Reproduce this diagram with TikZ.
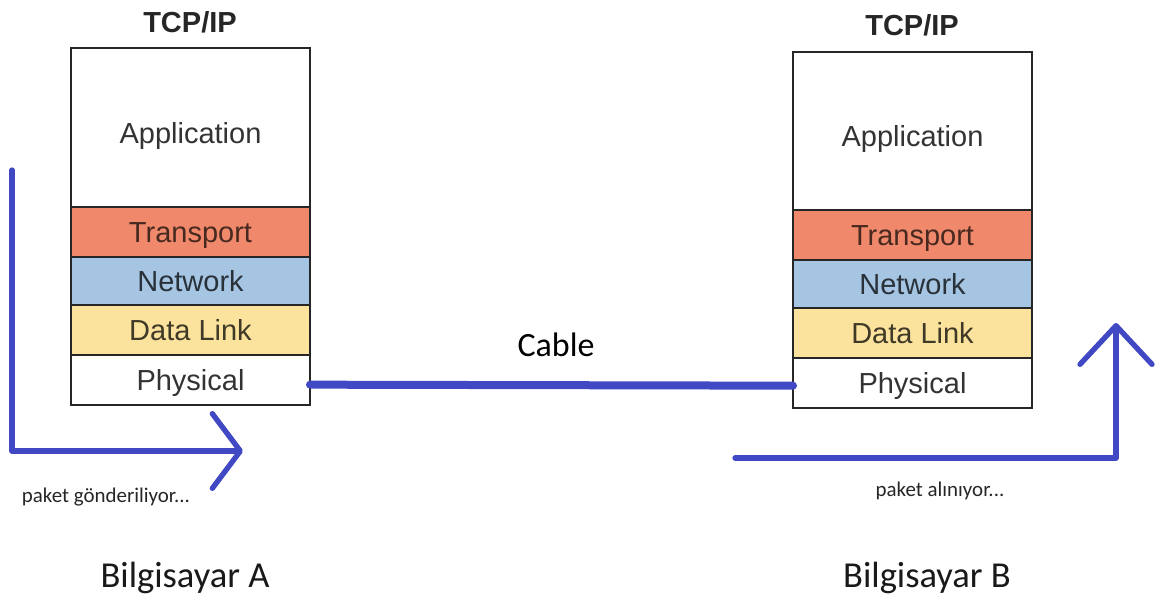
\documentclass[tikz,border=0pt]{standalone}
\usepackage{fontspec}
\setmainfont{Carlito}
\newfontfamily\arialfont{Liberation Sans}
\usetikzlibrary{positioning,arrows.meta}
\definecolor{transcol}{HTML}{F0896B}
\definecolor{netcol}{HTML}{A5C5E3}
\definecolor{linkcol}{HTML}{FCE39D}
\definecolor{flowblue}{HTML}{4048C4}
\tikzset{
  layer/.style={draw=black!85,line width=2.2pt,minimum width=179.25pt,
    minimum height=37.5pt,inner sep=0pt,outer sep=0pt,
    text height=15.8pt,text depth=0pt,
    font=\arialfont\fontsize{21.75}{26}\selectfont,text=black!80},
  applayer/.style={layer,text height=23.3pt},
  stacktitle/.style={font=\arialfont\bfseries\fontsize{21.75}{26}\selectfont,text=black!85},
  flow/.style={draw=flowblue,line width=4pt,line cap=round,line join=round},
}
\begin{document}
\begin{tikzpicture}[x=0.75pt,y=-0.75pt]
  \useasboundingbox (0,0) rectangle (1159,603);
  % computer A
  \node[applayer,anchor=north west,minimum height=119.25pt] (appA) at (71,48) {Application};
  \node[layer,fill=transcol,text=transcol!30!black,below=0pt of appA] (transA) {Transport};
  \node[layer,fill=netcol,text=netcol!25!black,below=0pt of transA,minimum height=36pt] (netA) {Network};
  \node[layer,fill=linkcol,text=linkcol!25!black,below=0pt of netA] (linkA) {Data Link};
  \node[layer,below=0pt of linkA] (physA) {Physical};
  \node[stacktitle] (titleA) at (190,22) {TCP/IP};
  % computer B
  \node[applayer,anchor=north west,minimum height=118.5pt] (appB) at (793,52) {Application};
  \node[layer,fill=transcol,text=transcol!30!black,below=0pt of appB] (transB) {Transport};
  \node[layer,fill=netcol,text=netcol!25!black,below=0pt of transB,minimum height=36pt] (netB) {Network};
  \node[layer,fill=linkcol,text=linkcol!25!black,below=0pt of netB] (linkB) {Data Link};
  \node[layer,below=0pt of linkB] (physB) {Physical};
  \node[stacktitle] (titleB) at (912,25) {TCP/IP};
  % cable
  \draw[flow,line width=6pt] ([yshift=-3.5pt]physA.east) -- ([yshift=-2pt]physB.west);
  \node[font=\fontsize{25.5}{30}\selectfont] (cable) at (556,345) {Cable};
  % sending
  \coordinate (sendTop) at (12,170);
  \coordinate (sendCorner) at (12,451);
  \coordinate (sendTip) at (243,451);
  \draw[flow,-{Straight Barb[length=21pt,width=56pt,round]}] (sendTop) -- (sendCorner) -- (sendTip);
  \node[font=\fontsize{15.7}{18}\selectfont,text=black!85] (sendText) at (106,497) {paket gönderiliyor...};
  % receiving
  \coordinate (recvStart) at (735,458);
  \coordinate (recvCorner) at (1116,458);
  \coordinate (recvTip) at (1116,323);
  \draw[flow,-{Straight Barb[length=29pt,width=54pt,round]}] (recvStart) -- (recvCorner) -- (recvTip);
  \node[font=\fontsize{15.7}{18}\selectfont,text=black!85] (recvText) at (940,491) {paket alınıyor...};
  % computers
  \node[font=\fontsize{27.4}{32}\selectfont,text=black!90] (pcA) at (185,578) {Bilgisayar A};
  \node[font=\fontsize{27.4}{32}\selectfont,text=black!90] (pcB) at (927,578) {Bilgisayar B};
\end{tikzpicture}
\end{document}
